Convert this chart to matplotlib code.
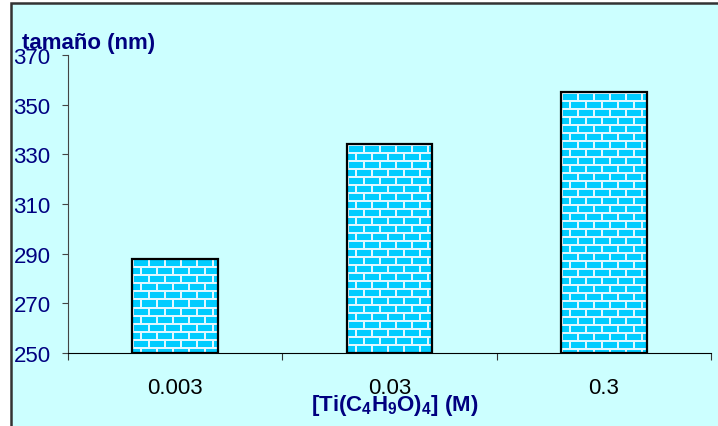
import numpy as np
import matplotlib
matplotlib.use("Agg")
import matplotlib.pyplot as plt
from matplotlib.patches import Rectangle

plt.rcParams['font.family'] = ['Liberation Sans', 'DejaVu Sans']
plt.rcParams['mathtext.fontset'] = 'custom'
plt.rcParams['mathtext.rm'] = 'Liberation Sans:bold'
plt.rcParams['mathtext.default'] = 'rm'

# data
categories = ['0.003', '0.03', '0.3']
sizes = [288, 334, 355]
y_ticks = [250, 270, 290, 310, 330, 350, 370]

navy = '#000080'
bg = '#CCFFFF'

fig = plt.figure(figsize=(7.18, 4.27), dpi=100)
fig.patch.set_facecolor('white')

# chart area frame
frame = Rectangle((11 / 718, -0.05), 1.1, (427 - 4) / 427 + 0.05,
                  transform=fig.transFigure, facecolor=bg,
                  edgecolor='#333333', lw=1.8, zorder=-10)
fig.patches.append(frame)

ax = fig.add_axes([68 / 718, 73 / 427, 643 / 718, 298 / 427])
ax.set_facecolor('none')

x = np.arange(1, len(categories) + 1)
ax.set_xlim(0.5, len(categories) + 0.5)
ax.set_ylim(250, 370)

bars = ax.bar(x, [s - 250 for s in sizes], width=0.4, bottom=250,
              facecolor='none', edgecolor='black', lw=1.6, zorder=3)

# brick texture inside each bar
def brick(h, w):
    img = np.zeros((h, w, 3))
    img[:, :] = (0.0, 0.80, 1.0)
    mortar = (0.88, 0.97, 1.0)
    for r in range(h):
        if r % 8 in (0, 1):
            img[r, :] = mortar
        else:
            off = 0 if (r // 8) % 2 == 0 else 8
            for c in range(w):
                if (c + off) % 16 in (0, 1):
                    img[r, c] = mortar
    return img

for b in bars:
    x0, y0 = b.get_x(), b.get_y()
    x1, y1 = x0 + b.get_width(), y0 + b.get_height()
    p0 = ax.transData.transform((x0, y0))
    p1 = ax.transData.transform((x1, y1))
    w = int(round(p1[0] - p0[0]))
    h = int(round(p1[1] - p0[1]))
    im = ax.imshow(brick(h, w), extent=(x0, x1, y0, y1), origin='upper',
                   interpolation='nearest', aspect='auto', zorder=2)
    im.set_clip_path(b)
ax.set_xlim(0.5, len(categories) + 0.5)
ax.set_ylim(250, 370)

for s in ['top', 'right']:
    ax.spines[s].set_visible(False)
ax.spines['left'].set_color('#444444')
ax.spines['bottom'].set_color('black')

ax.set_yticks(y_ticks)
ax.tick_params(axis='y', direction='out', length=4.5, colors='#444444',
               labelcolor=navy, labelsize=16, pad=8)

ax.set_xticks(np.arange(0.5, len(categories) + 1, 1.0))
ax.set_xticklabels([])
ax.set_xticks(x, minor=True)
ax.set_xticklabels(categories, minor=True)
ax.tick_params(axis='x', which='major', direction='out', length=5, colors='#333333')
ax.tick_params(axis='x', which='minor', length=0, labelsize=16,
               labelcolor='black', pad=17)

fig.text(395 / 718, 1 - 406 / 427, r'[Ti(C$_4$H$_9$O)$_4$] (M)', fontsize=16,
         fontweight='bold', color=navy, ha='center', va='center')

fig.text(22 / 718, 1 - 44 / 427, 'tamaño (nm)', fontsize=16, fontweight='bold',
         color=navy, va='center', ha='left')

fig.savefig('out.png', dpi=100)
